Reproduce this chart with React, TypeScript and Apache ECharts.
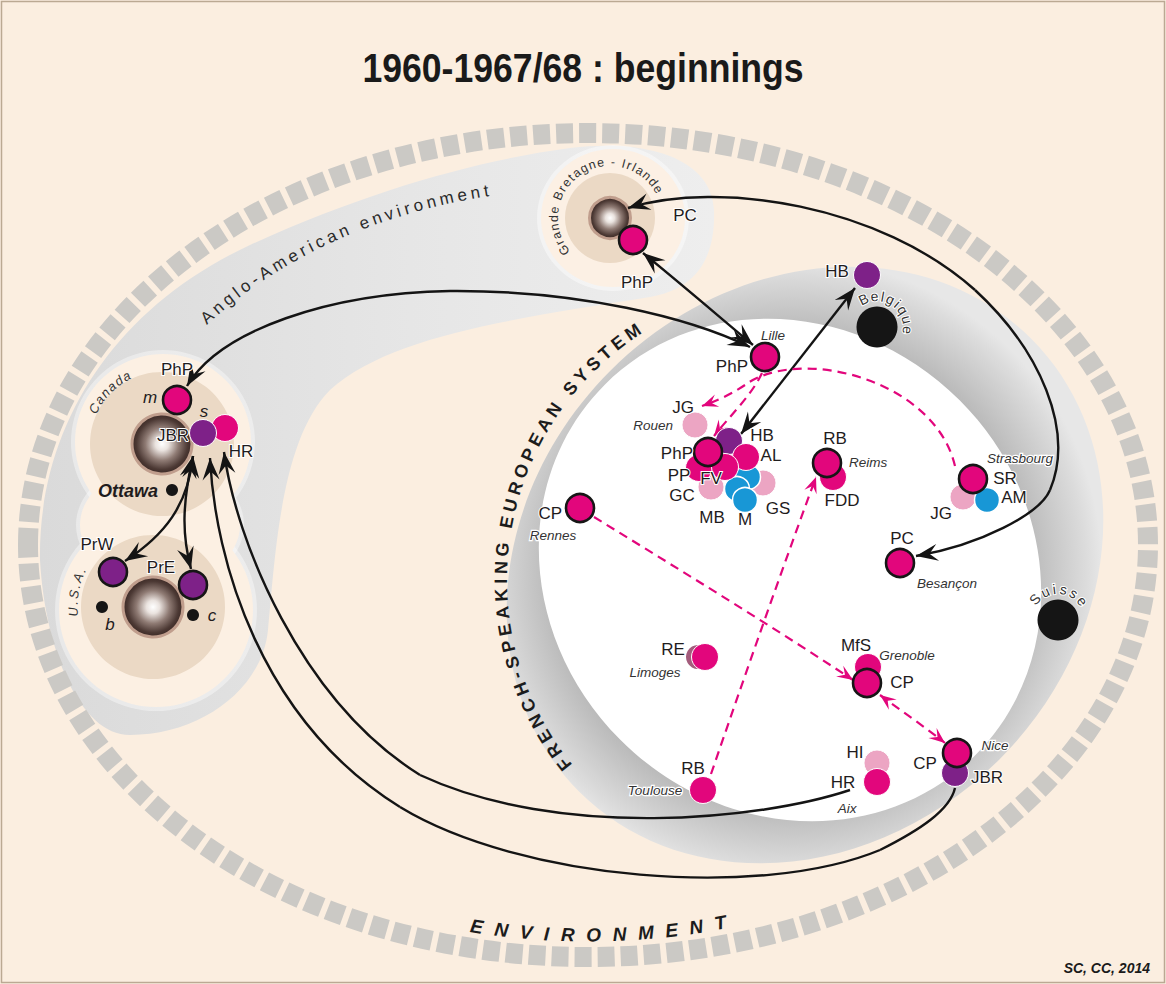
import React, { useEffect, useRef } from "react";
import * as echarts from "echarts";

const W = 1166;
const H = 984;
const FONT = "'Liberation Sans', Arial, Helvetica, sans-serif";
const PINK = "#e2067c";
const INK = "#1f1c1d";

const TITLE = "1960-1967/68 : beginnings";
const CREDIT = "SC, CC, 2014";

// centres of influence (spheres): [name, x, y, kind]
const hubs: [string, number, number, string][] = [
  ["Canada", 162, 444, "big"],
  ["U.S.A.", 153, 607, "big"],
  ["Grande Bretagne - Irlande", 610, 218, "small"],
];

// black places: [name, x, y, kind]
const places: [string, number, number, string][] = [
  ["Belgique", 877, 327, "country"],
  ["Suisse", 1058, 620, "country"],
  ["Ottawa", 172, 490, "city"],
  ["b", 102, 607, "city"],
  ["c", 193, 615, "city"],
];

// researchers, in drawing order: [initials, x, y, kind]
const researchers: [string, number, number, string][] = [
  ["HR", 225, 428, "pink"],
  ["JBR", 203, 433, "purple"],
  ["PhP", 177, 400, "key"],
  ["PrW", 113, 572, "purpleKey"],
  ["PrE", 193, 585, "purpleKey"],
  ["PhP", 633, 240, "key"],
  ["HB", 867, 275, "purple"],
  ["PhP", 765, 357, "key"],
  ["JG", 695, 425, "light"],
  ["GS", 763, 483, "light"],
  ["M", 748, 477, "blue"],
  ["MB", 737, 489, "blue"],
  ["M", 745, 500, "blue"],
  ["GC", 711, 487, "light"],
  ["HB", 729, 441, "purple"],
  ["AL", 746, 457, "pink"],
  ["PP", 699, 468, "pink"],
  ["FV", 725, 467, "pink"],
  ["PhP", 708, 452, "key"],
  ["FDD", 833, 477, "pink"],
  ["RB", 827, 463, "key"],
  ["JG", 963, 497, "light"],
  ["AM", 987, 500, "blue"],
  ["SR", 973, 479, "key"],
  ["PC", 900, 563, "key"],
  ["CP", 580, 508, "key"],
  ["RE", 698, 657, "dim"],
  ["RE", 705, 657, "pink"],
  ["MfS", 868, 667, "pink"],
  ["CP", 867, 683, "key"],
  ["JBR", 955, 773, "purple"],
  ["CP", 957, 753, "key"],
  ["RB", 703, 790, "pink"],
  ["HI", 877, 763, "light"],
  ["HR", 877, 782, "pink"],
];

// text labels: [text, x, y, anchor, kind]
const labels: [string, number, number, string, string][] = [
  ["PhP", 177, 369, "c", "name"],
  ["m", 150, 397, "c", "mark"],
  ["s", 204, 411, "c", "mark"],
  ["JBR", 189, 435, "r", "name"],
  ["HR", 241, 451, "c", "name"],
  ["Ottawa", 158, 491, "r", "capital"],
  ["PrW", 97, 544, "c", "name"],
  ["PrE", 161, 567, "c", "name"],
  ["b", 110, 624, "c", "mark"],
  ["c", 212, 615, "c", "mark"],
  ["PC", 685, 215, "c", "name"],
  ["PhP", 637, 282, "c", "name"],
  ["HB", 837, 271, "c", "name"],
  ["Lille", 773, 335, "c", "place"],
  ["PhP", 748, 366, "r", "name"],
  ["JG", 683, 407, "c", "name"],
  ["Rouen", 673, 425, "r", "place"],
  ["PhP", 693, 453, "r", "name"],
  ["HB", 762, 435, "c", "name"],
  ["AL", 771, 455, "c", "name"],
  ["PP", 679, 475, "c", "name"],
  ["FV", 711, 478, "c", "name"],
  ["GC", 682, 495, "c", "name"],
  ["MB", 712, 517, "c", "name"],
  ["M", 745, 519, "c", "name"],
  ["GS", 778, 508, "c", "name"],
  ["RB", 835, 438, "c", "name"],
  ["Reims", 849, 462, "l", "place"],
  ["FDD", 842, 500, "c", "name"],
  ["Strasbourg", 1020, 458, "c", "place"],
  ["SR", 1005, 478, "c", "name"],
  ["AM", 1014, 497, "c", "name"],
  ["JG", 941, 513, "c", "name"],
  ["PC", 902, 538, "c", "name"],
  ["Besançon", 947, 583, "c", "place"],
  ["CP", 562, 513, "r", "name"],
  ["Rennes", 553, 535, "c", "place"],
  ["RE", 673, 649, "c", "name"],
  ["Limoges", 655, 672, "c", "place"],
  ["MfS", 856, 645, "c", "name"],
  ["Grenoble", 907, 655, "c", "place"],
  ["CP", 902, 682, "c", "name"],
  ["Nice", 995, 745, "c", "place"],
  ["CP", 925, 763, "c", "name"],
  ["JBR", 987, 777, "c", "name"],
  ["HI", 855, 752, "c", "name"],
  ["HR", 843, 782, "c", "name"],
  ["Aix", 847, 808, "c", "place"],
  ["RB", 693, 768, "c", "name"],
  ["Toulouse", 655, 790, "c", "place"],
];

// curved captions: [text, cx, cy, rx, ry, startDeg, endDeg, kind]
const arcCaptions: [string, number, number, number, number, number, number, string][] = [
  ["Anglo-American environment", 588, 545, 490, 362, 219, 258, "region"],
  ["FRENCH-SPEAKING EUROPEAN SYSTEM", 800, 580, 299, 299, 142, 236, "system"],
  ["ENVIRONMENT", 588, 545, 535, 390, 102, 75.7, "env"],
  ["Grande Bretagne - Irlande", 610, 218, 56, 56, 145, 329, "gb"],
  ["Belgique", 877, 327, 31, 31, 244, 366, "country"],
  ["Suisse", 1058, 620, 31, 31, 222, 322, "country"],
  ["Canada", 163, 445, 78, 78, 208, 242, "state"],
  ["U.S.A.", 156, 606, 83, 83, 176, 206, "state"],
];

// links: bezier chains (start, c1, c2, end, c1, c2, end ...), heads, kind
type Link = { pts: number[][]; heads: string; kind: string };
const links: Link[] = [
  { kind: "solid", heads: "both", pts: [[643, 253], [680, 283], [716, 314], [753, 345]] },
  { kind: "solid", heads: "both", pts: [[855, 288], [815, 339], [778, 387], [741, 434]] },
  { kind: "solid", heads: "both", pts: [[628, 208], [720, 180], [880, 205], [975, 290], [1040, 350], [1075, 430], [1050, 490], [1040, 514], [980, 545], [916, 556]] },
  { kind: "solid", heads: "both", pts: [[187, 386], [220, 330], [330, 293], [450, 291], [580, 290], [690, 318], [750, 347]] },
  { kind: "solid", heads: "both", pts: [[193, 456], [188, 505], [165, 535], [125, 561]] },
  { kind: "solid", heads: "both", pts: [[193, 456], [182, 505], [182, 535], [191, 569]] },
  { kind: "solid", heads: "start", pts: [[224, 452], [236, 540], [300, 700], [420, 775], [560, 840], [760, 820], [850, 790]] },
  { kind: "solid", heads: "start", pts: [[210, 458], [215, 560], [260, 720], [400, 807], [520, 880], [760, 900], [880, 850], [920, 830], [950, 810], [955, 788]] },
  { kind: "dashed", heads: "end", pts: [[762, 373], [752, 395], [728, 418], [714, 436]] },
  { kind: "dashed", heads: "end", pts: [[955, 466], [935, 380], [800, 345], [745, 385], [730, 395], [716, 401], [702, 406]] },
  { kind: "dashed", heads: "end", pts: [[594, 517], [680, 570], [770, 625], [853, 680]] },
  { kind: "dashed", heads: "both", pts: [[880, 695], [900, 710], [925, 727], [945, 743]] },
  { kind: "dashed", heads: "end", pts: [[711, 774], [745, 675], [780, 575], [816, 477]] },
];

const NODE_STYLE: Record<string, any> = {
  key: { color: PINK, border: "#161616", bw: 2.6, size: 28 },
  pink: { color: PINK, border: "#ffffff", bw: 1, size: 27 },
  purple: { color: "#7e2188", border: "#ffffff", bw: 1, size: 27 },
  purpleKey: { color: "#7e2188", border: "#161616", bw: 2.6, size: 28 },
  light: { color: "#eca5c3", border: "#ffffff", bw: 1, size: 26 },
  blue: { color: "#1897d6", border: "#ffffff", bw: 1.5, size: 25 },
  dim: { color: "#a45c7c", border: "#ffffff", bw: 0, size: 24 },
};

const LABEL_STYLE: Record<string, any> = {
  name: { fontSize: 17, fontStyle: "normal", fontWeight: "normal", fill: INK, halo: 2 },
  place: { fontSize: 13.5, fontStyle: "italic", fontWeight: "normal", fill: "#333", halo: 2.5 },
  mark: { fontSize: 17, fontStyle: "italic", fontWeight: "normal", fill: INK, halo: 0 },
  capital: { fontSize: 18, fontStyle: "italic", fontWeight: "bold", fill: INK, halo: 0 },
};

const ARC_STYLE: Record<string, any> = {
  region: { fontSize: 17, fontStyle: "normal", fontWeight: "normal", fill: "#2a2a2a" },
  system: { fontSize: 18, fontStyle: "normal", fontWeight: "bold", fill: "#1c1c1c" },
  env: { fontSize: 19, fontStyle: "italic", fontWeight: "bold", fill: "#1c1c1c" },
  gb: { fontSize: 12.5, fontStyle: "normal", fontWeight: "normal", fill: "#333" },
  country: { fontSize: 14, fontStyle: "normal", fontWeight: "normal", fill: "#333", halo: 2 },
  state: { fontSize: 13, fontStyle: "italic", fontWeight: "normal", fill: "#333" },
};

let measureCtx: CanvasRenderingContext2D | null = null;
function measure(ch: string, font: string) {
  if (!measureCtx) measureCtx = document.createElement("canvas").getContext("2d");
  if (!measureCtx) return 8;
  measureCtx.font = font;
  return measureCtx.measureText(ch).width;
}

function arcLetters(cap: [string, number, number, number, number, number, number, string]) {
  const [text, cx, cy, rx, ry, d0, d1, kind] = cap;
  const st = ARC_STYLE[kind];
  const font = `${st.fontStyle} ${st.fontWeight} ${st.fontSize}px ${FONT}`;
  const chars = Array.from(text);
  const widths = chars.map((c) => measure(c, font));
  const a0 = (d0 * Math.PI) / 180;
  const a1 = (d1 * Math.PI) / 180;
  const N = 600;
  const th: number[] = [];
  const cum: number[] = [0];
  for (let i = 0; i <= N; i++) {
    const t = a0 + ((a1 - a0) * i) / N;
    th.push(t);
    if (i > 0) {
      const p = th[i - 1];
      cum.push(cum[i - 1] + Math.hypot(rx * (Math.cos(t) - Math.cos(p)), ry * (Math.sin(t) - Math.sin(p))));
    }
  }
  const L = cum[N];
  let need = 0;
  for (let i = 0; i < chars.length - 1; i++) need += (widths[i] + widths[i + 1]) / 2;
  const gap = chars.length > 1 ? (L - need) / (chars.length - 1) : 0;
  const dir = Math.sign(a1 - a0);
  const out: any[] = [];
  let s = 0;
  let j = 0;
  chars.forEach((ch, i) => {
    if (i > 0) s += (widths[i - 1] + widths[i]) / 2 + gap;
    while (j < N && cum[j + 1] < s) j++;
    const seg = cum[Math.min(j + 1, N)] - cum[j] || 1;
    const f = Math.max(0, Math.min(1, (s - cum[j]) / seg));
    const t = th[j] + (th[Math.min(j + 1, N)] - th[j]) * f;
    const x = cx + rx * Math.cos(t);
    const y = cy + ry * Math.sin(t);
    const tx = dir * -rx * Math.sin(t);
    const ty = dir * ry * Math.cos(t);
    if (ch === " ") return;
    out.push({
      type: "text",
      x,
      y,
      rotation: -Math.atan2(ty, tx),
      z: 2,
      silent: true,
      style: {
        text: ch,
        fontSize: st.fontSize,
        fontStyle: st.fontStyle,
        fontWeight: st.fontWeight,
        fontFamily: FONT,
        fill: st.fill,
        align: "center",
        verticalAlign: "middle",
        stroke: st.halo ? "#ffffff" : undefined,
        lineWidth: st.halo || 0,
      },
    });
  });
  return out;
}

function arrowHead(tip: number[], from: number[], L: number, hw: number, notch: number) {
  const dx = tip[0] - from[0];
  const dy = tip[1] - from[1];
  const len = Math.hypot(dx, dy) || 1;
  const ux = dx / len;
  const uy = dy / len;
  const nx = -uy;
  const ny = ux;
  return [
    [tip[0], tip[1]],
    [tip[0] - L * ux + hw * nx, tip[1] - L * uy + hw * ny],
    [tip[0] - notch * L * ux, tip[1] - notch * L * uy],
    [tip[0] - L * ux - hw * nx, tip[1] - L * uy - hw * ny],
  ];
}

function buildOption() {
  const background: any[] = [
    { type: "rect", z: 0, silent: true, shape: { x: 0, y: 0, width: W, height: H }, style: { fill: "#fbeee0" } },
    // Anglo-American environment
    {
      type: "anglo",
      z: 0,
      silent: true,
      x: 0,
      y: 0,
      style: {
        fill: new echarts.graphic.LinearGradient(0, 0, 1, 0, [
          { offset: 0, color: "#dadada" },
          { offset: 0.55, color: "#e6e6e6" },
          { offset: 1, color: "#eeeeee" },
        ]),
      },
    },
    // bubbles around Canada / USA
    { type: "circle", z: 0, silent: true, shape: { cx: 163, cy: 442, r: 92 }, style: { fill: "#ffffff", opacity: 0.4 } },
    { type: "circle", z: 0, silent: true, shape: { cx: 156, cy: 610, r: 101 }, style: { fill: "#ffffff", opacity: 0.4 } },
    { type: "ellipse", z: 0, silent: true, shape: { cx: 160, cy: 525, rx: 84, ry: 64 }, style: { fill: "#ffffff", opacity: 0.4 } },
    { type: "circle", z: 0, silent: true, shape: { cx: 163, cy: 442, r: 88 }, style: { fill: "#fcf0e3" } },
    { type: "circle", z: 0, silent: true, shape: { cx: 156, cy: 610, r: 97 }, style: { fill: "#fcf0e3" } },
    { type: "ellipse", z: 0, silent: true, shape: { cx: 160, cy: 525, rx: 80, ry: 60 }, style: { fill: "#fcf0e3" } },
    // halo around Great Britain
    { type: "ellipse", z: 0, silent: true, shape: { cx: 613, cy: 218, rx: 76, ry: 73 }, style: { fill: "#ffffff", opacity: 0.45 } },
    { type: "ellipse", z: 0, silent: true, shape: { cx: 613, cy: 218, rx: 72, ry: 69 }, style: { fill: "#fcf0e4" } },
    // French-speaking system
    {
      type: "ellipse",
      z: 0,
      silent: true,
      x: 805,
      y: 565,
      rotation: Math.PI / 4,
      shape: { cx: 0, cy: 0, rx: 320, ry: 275 },
      style: {
        fill: {
          type: "radial",
          x: -14,
          y: -7,
          r: 312,
          global: true,
          colorStops: [
            { offset: 0, color: "#bababa" },
            { offset: 0.77, color: "#bababa" },
            { offset: 0.86, color: "#cbcbcb" },
            { offset: 0.95, color: "#dcdcdc" },
            { offset: 1, color: "#e7e7e7" },
          ],
        },
      },
    },
    {
      type: "ellipse",
      z: 0,
      silent: true,
      x: 790,
      y: 570,
      rotation: -Math.PI / 4,
      shape: { cx: 0, cy: 0, rx: 262, ry: 240 },
      style: { fill: "#ffffff" },
    },
    // environment ring
    {
      type: "ellipse",
      z: 0,
      silent: true,
      shape: { cx: 588, cy: 545, rx: 560, ry: 412 },
      style: { fill: "none", stroke: "#cbc9c5", lineWidth: 20, lineDash: [17, 6] },
    },
  ];

  const texts: any[] = [];
  arcCaptions.forEach((c) => texts.push(...arcLetters(c)));
  texts.push({
    type: "text",
    z: 6,
    x: 583,
    y: 68,
    scaleX: 0.89,
    silent: true,
    style: { text: TITLE, fontSize: 40, fontWeight: "bold", fontFamily: FONT, fill: "#1a1a1a", align: "center", verticalAlign: "middle" },
  });
  texts.push({
    type: "text",
    z: 6,
    x: 1150,
    y: 968,
    silent: true,
    style: { text: CREDIT, fontSize: 14, fontWeight: "bold", fontStyle: "italic", fontFamily: FONT, fill: "#1a1a1a", align: "right", verticalAlign: "middle" },
  });
  texts.push({
    type: "rect",
    z: 6,
    silent: true,
    shape: { x: 1.5, y: 1.5, width: W - 3, height: H - 3 },
    style: { fill: "none", stroke: "#bba993", lineWidth: 1.5 },
  });

  const sphereFill = {
    type: "radial",
    x: 0.5,
    y: 0.5,
    r: 0.5,
    colorStops: [
      { offset: 0, color: "#ffffff" },
      { offset: 0.22, color: "#eae3df" },
      { offset: 0.55, color: "#8f7b74" },
      { offset: 0.85, color: "#4c3934" },
      { offset: 1, color: "#3b2925" },
    ],
  };

  return {
    animation: false,
    grid: { left: 0, right: 0, top: 0, bottom: 0, containLabel: false },
    xAxis: { type: "value", min: 0, max: W, show: false },
    yAxis: { type: "value", min: 0, max: H, inverse: true, show: false },
    graphic: { elements: [...background, ...texts] },
    series: [
      {
        name: "realms",
        type: "scatter",
        z: 1,
        silent: true,
        symbol: "circle",
        data: hubs.map(([n, x, y, k]) => ({
          name: n,
          value: [x, y],
          symbolSize: k === "big" ? 144 : 90,
          itemStyle: { color: "#ebd9c5", opacity: 1 },
        })),
      },
      {
        name: "hubs",
        type: "scatter",
        z: 2,
        silent: true,
        symbol: "circle",
        data: hubs.map(([n, x, y, k]) => ({
          name: n,
          value: [x, y],
          symbolSize: k === "big" ? 60 : 41,
          itemStyle: { color: sphereFill, borderColor: "#c09e8d", borderWidth: 3, opacity: 1 },
        })),
      },
      {
        name: "places",
        type: "scatter",
        z: 2,
        silent: true,
        symbol: "circle",
        data: places.map(([n, x, y, k]) => ({
          name: n,
          value: [x, y],
          symbolSize: k === "country" ? 41 : 12,
          itemStyle: { color: "#151515", opacity: 1 },
        })),
      },
      {
        name: "links",
        type: "custom",
        z: 3,
        silent: true,
        clip: false,
        data: links.map((l) => l.pts[0]),
        renderItem: (params: any, api: any) => {
          const link = links[params.dataIndex];
          const P = link.pts.map((p) => api.coord(p));
          const dashed = link.kind === "dashed";
          const stroke = dashed ? PINK : "#141414";
          const lw = dashed ? 2.2 : 2.4;
          const children: any[] = [];
          for (let i = 1; i + 2 < P.length; i += 3) {
            children.push({
              type: "bezierCurve",
              shape: {
                x1: P[i - 1][0],
                y1: P[i - 1][1],
                cpx1: P[i][0],
                cpy1: P[i][1],
                cpx2: P[i + 1][0],
                cpy2: P[i + 1][1],
                x2: P[i + 2][0],
                y2: P[i + 2][1],
              },
              style: { stroke, lineWidth: lw, fill: "none", lineDash: dashed ? [9, 6] : null },
            });
          }
          const Lh = dashed ? 16 : 22;
          const hw = dashed ? 6.5 : 8.5;
          const notch = dashed ? 0.6 : 0.62;
          const n = P.length;
          if (link.heads === "end" || link.heads === "both") {
            children.push({ type: "polygon", shape: { points: arrowHead(P[n - 1], P[n - 2], Lh, hw, notch) }, style: { fill: stroke } });
          }
          if (link.heads === "start" || link.heads === "both") {
            children.push({ type: "polygon", shape: { points: arrowHead(P[0], P[1], Lh, hw, notch) }, style: { fill: stroke } });
          }
          return { type: "group", children };
        },
      },
      {
        name: "researchers",
        type: "scatter",
        z: 4,
        silent: true,
        symbol: "circle",
        data: researchers.map(([n, x, y, k]) => {
          const s = NODE_STYLE[k];
          return {
            name: n,
            value: [x, y],
            symbolSize: s.size,
            itemStyle: { color: s.color, borderColor: s.border, borderWidth: s.bw, opacity: 1 },
          };
        }),
      },
      {
        name: "labels",
        type: "custom",
        z: 5,
        silent: true,
        clip: false,
        data: labels.map((l) => [l[1], l[2]]),
        renderItem: (params: any, api: any) => {
          const [text, x, y, anchor, kind] = labels[params.dataIndex];
          const p = api.coord([x, y]);
          const st = LABEL_STYLE[kind];
          return {
            type: "text",
            x: p[0],
            y: p[1],
            style: {
              text,
              fontSize: st.fontSize,
              fontStyle: st.fontStyle,
              fontWeight: st.fontWeight,
              fontFamily: FONT,
              fill: st.fill,
              align: anchor === "l" ? "left" : anchor === "r" ? "right" : "center",
              verticalAlign: "middle",
              stroke: st.halo ? "#ffffff" : undefined,
              lineWidth: st.halo || 0,
            },
          };
        },
      },
    ],
  };
}

let shapeRegistered = false;
function registerShapes() {
  if (shapeRegistered) return;
  const d =
    "M650 297 C520 318 390 335 330 390 C280 440 275 560 268 630 C262 690 200 735 130 735 C80 735 45 650 40 560 C38 430 110 310 250 245 C370 190 480 160 570 148 C650 138 712 160 714 210 C716 265 690 290 650 297 Z";
  echarts.graphic.registerShape("anglo", echarts.graphic.extendPath(d, {}) as any);
  shapeRegistered = true;
}

export default function App() {
  const ref = useRef<HTMLDivElement>(null);
  useEffect(() => {
    if (!ref.current) return;
    registerShapes();
    const chart = echarts.init(ref.current, null, { renderer: "svg" });
    chart.setOption(buildOption() as any);
    return () => chart.dispose();
  }, []);
  return <div ref={ref} style={{ position: "absolute", left: 0, top: 0, width: W, height: H }} />;
}
